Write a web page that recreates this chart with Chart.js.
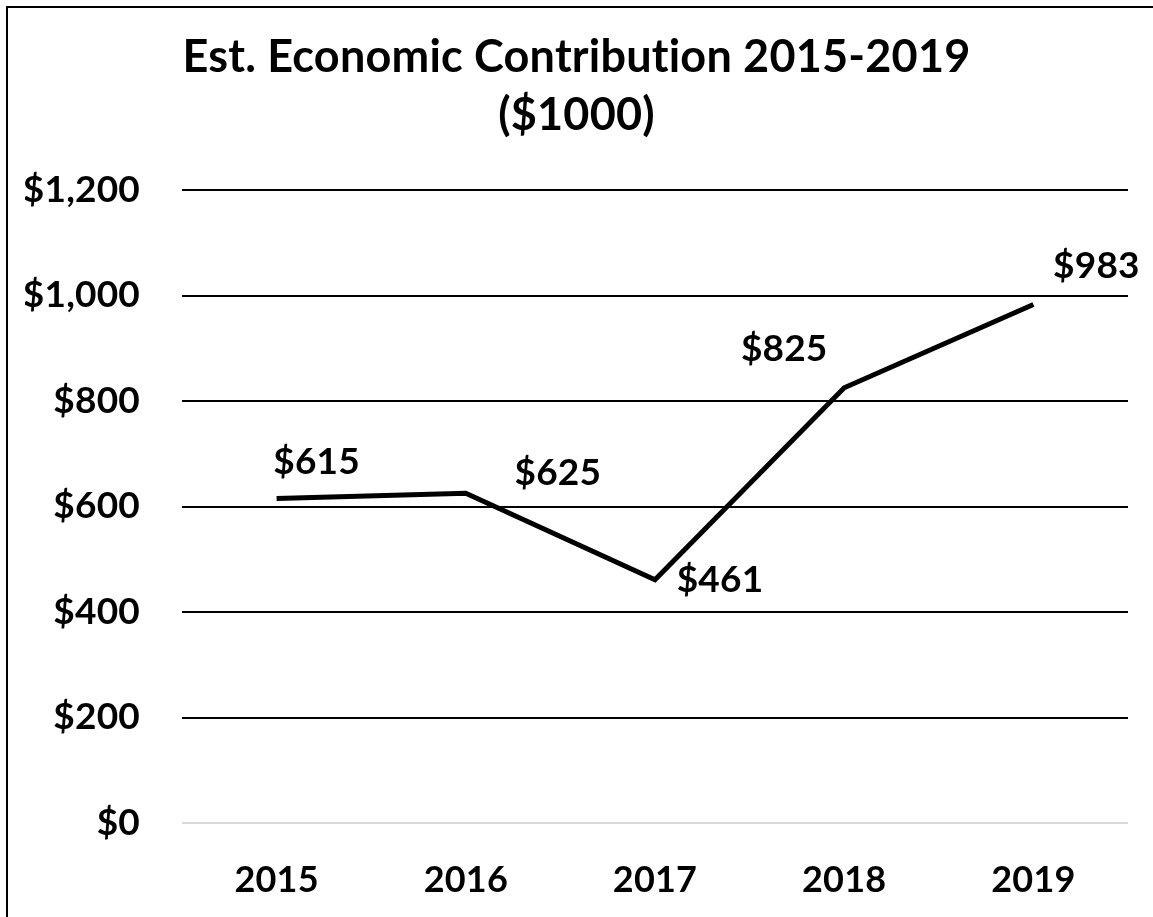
<!DOCTYPE html>
<html>
<head>
<meta charset="utf-8">
<script src="https://cdn.jsdelivr.net/npm/chart.js@4"></script>
<style>
  html, body { margin: 0; padding: 0; background: #fff; }
  #frame {
    position: absolute; left: 6px; top: 6px;
    width: 1160px; height: 930px;
    border-left: 2px solid #000; border-top: 2px solid #000;
  }
  #wrap { position: absolute; left: 0; top: 0; width: 1153px; height: 917px; }
</style>
</head>
<body>
<div id="frame"></div>
<div id="wrap"><canvas id="econChart"></canvas></div>
<script>
const years = ["2015", "2016", "2017", "2018", "2019"];
const contribution = [615, 625, 461, 825, 983];
const yTicks = [0, 200, 400, 600, 800, 1000, 1200];

// label placement relative to each point (px)
const labelOffsets = [[40, -37], [92, -20], [65, 0], [-60, -39], [63, -38]];

const FONT = "Lato, 'Liberation Sans', sans-serif";

const money = (v) => "$" + v.toLocaleString("en-US");

// no "ti" ligature in the title
const noLigatures = {
  id: "noLigatures",
  beforeDraw(chart) {
    chart.ctx.letterSpacing = "0.2px";
  },
};

const pointLabels = {
  id: "pointLabels",
  afterDatasetsDraw(chart) {
    const ctx = chart.ctx;
    const meta = chart.getDatasetMeta(0);
    ctx.save();
    ctx.font = "bold 37px " + FONT;
    ctx.fillStyle = "#000";
    ctx.textAlign = "center";
    ctx.textBaseline = "middle";
    meta.data.forEach((pt, i) => {
      const [dx, dy] = labelOffsets[i];
      ctx.fillText(money(contribution[i]), pt.x + dx, pt.y + dy);
    });
    ctx.restore();
  },
};

new Chart(document.getElementById("econChart"), {
  type: "line",
  data: {
    labels: years,
    datasets: [
      {
        data: contribution,
        borderColor: "#000",
        borderWidth: 5,
        pointRadius: 0,
        tension: 0,
        fill: false,
      },
    ],
  },
  options: {
    responsive: true,
    maintainAspectRatio: false,
    animation: false,
    layout: { padding: { left: 25, right: 25, top: 28, bottom: 0 } },
    plugins: {
      legend: { display: false },
      tooltip: { enabled: false },
      title: {
        display: true,
        text: ["Est. Economic Contribution 2015-2019", "($1000)"],
        color: "#000",
        font: { family: FONT, size: 45, weight: "bold", lineHeight: 1.3 },
        padding: { top: 0, bottom: 45 },
      },
    },
    scales: {
      x: {
        offset: true,
        grid: { display: false, drawTicks: false },
        border: { display: false },
        afterFit: (axis) => {
          axis.height = 94;
        },
        ticks: {
          color: "#000",
          padding: 36,
          font: { family: FONT, size: 36, weight: "bold" },
        },
      },
      y: {
        min: 0,
        max: 1200,
        afterBuildTicks: (axis) => {
          axis.ticks = yTicks.map((v) => ({ value: v }));
        },
        afterFit: (axis) => {
          axis.width = 157;
        },
        grid: {
          drawTicks: false,
          lineWidth: 2,
          color: (c) => (c.tick && c.tick.value === 0 ? "#d9d9d9" : "#000"),
        },
        border: { display: false },
        ticks: {
          color: "#000",
          padding: 42,
          callback: (v) => money(v),
          font: { family: FONT, size: 37, weight: "bold" },
        },
      },
    },
  },
  plugins: [noLigatures, pointLabels],
});
</script>
</body>
</html>
